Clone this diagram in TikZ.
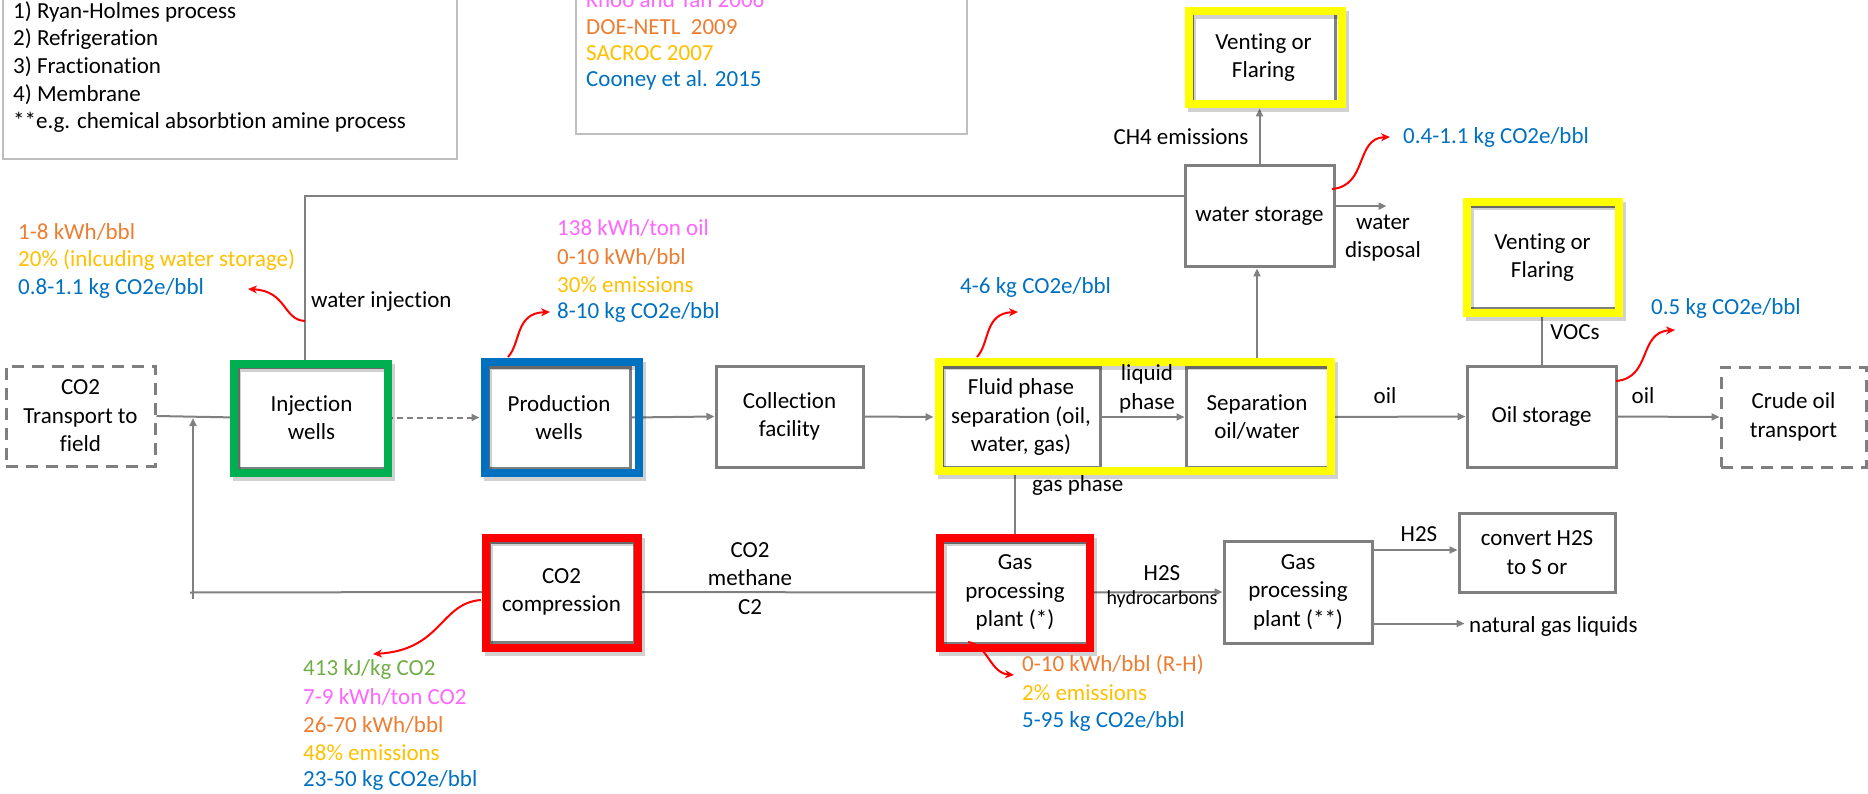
\documentclass[tikz,border=0pt]{standalone}
\usepackage{fontspec}
\setmainfont{Carlito}[Ligatures={NoCommon}]
\usetikzlibrary{arrows.meta,calc}
\definecolor{cGray}{HTML}{7F7F7F}
\definecolor{cLine}{HTML}{808080}
\definecolor{cLeg}{HTML}{BFBFBF}
\definecolor{cOrange}{HTML}{ED7D31}
\definecolor{cGold}{HTML}{FFC000}
\definecolor{cBlue}{HTML}{0070C0}
\definecolor{cPink}{HTML}{FF66FF}
\definecolor{cGreenT}{HTML}{70AD47}
\definecolor{fGreen}{HTML}{00B050}
\definecolor{fBlue}{HTML}{0070C0}
\definecolor{fRed}{HTML}{FF0000}
\definecolor{fYellow}{HTML}{FFFF00}
\begin{document}
\begin{tikzpicture}[x=1pt,y=-1pt,
  font=\fontsize{23}{28.5}\selectfont,
  gbox/.style={draw=cGray, line width=3pt, fill=white, inner sep=0pt, align=center, text=black},
  dbox/.style={draw=cGray, line width=3pt, dash pattern=on 12pt off 8pt, fill=white, inner sep=0pt, align=center, text=black},
  conn/.style={draw=cLine, line width=2pt},
  arr/.style={conn, -{Triangle[length=8pt,width=7pt]}},
  hlframe/.style={draw=#1, line width=8pt},
  shadowframe/.style={draw=black, opacity=0.18, line width=8pt},
  redarr/.style={draw=red, line width=2pt, -{Stealth[length=9pt,width=8pt]}},
  et/.style={anchor=west, inner sep=0pt},
  lab/.style={inner sep=0pt, align=center},
]
\useasboundingbox (0,0) rectangle (1868,794);
\clip (0,0) rectangle (1868,794);

% legends
\draw[cLeg, line width=1.5pt] (3,-10) rectangle (457,159);
\node[et] (l1) at (13,12) {1) Ryan-Holmes process};
\node[et] (l2) at (13,39.5) {2) Refrigeration};
\node[et] (l3) at (13,67) {3) Fractionation};
\node[et] (l4) at (13,94.5) {4) Membrane};
\node[et] (l5) at (13,122) {**e.g. chemical absorbtion amine process};

\draw[cLeg, line width=1.5pt] (576,-10) rectangle (967,134);
\node[et, text=cPink] (r1) at (586,0) {Khoo and Tan 2006};
\node[et, text=cOrange] (r2) at (586,27) {DOE-NETL\ \ 2009};
\node[et, text=cGold] (r3) at (586,53) {SACROC 2007};
\node[et, text=cBlue] (r4) at (586,80) {Cooney et al. 2015};

% boxes
\node[dbox, minimum width=149pt, minimum height=100pt] (tr) at (80.5,416) {CO2\\Transport to\\field};
\node[gbox, minimum width=147pt, minimum height=101pt] (inj) at (311.5,417.5) {Injection\\wells};
\node[gbox, minimum width=142pt, minimum height=101pt] (prod) at (559,417.5) {Production\\wells};
\node[gbox, minimum width=147pt, minimum height=101pt] (coll) at (789.5,416.5) {Collection\\facility};
\node[gbox, minimum width=158pt, minimum height=100pt] (fl) at (1021,417) {Fluid phase\\separation (oil,\\water, gas)};
\node[gbox, minimum width=142pt, minimum height=100pt] (sep) at (1257,417) {Separation\\oil/water};
\node[gbox, minimum width=149pt, minimum height=101pt] (oil) at (1541.5,416.5) {Oil storage};
\node[dbox, minimum width=145pt, minimum height=100pt] (cr) at (1793.5,417) {Crude oil\\transport};
\node[gbox, minimum width=149pt, minimum height=101pt] (ws) at (1259.5,216.5) {water storage};
\node[gbox, minimum width=143pt, minimum height=89pt] (vt) at (1263.5,57.5) {Venting or\\Flaring};
\node[gbox, minimum width=147pt, minimum height=101pt] (v2) at (1542.5,257.5) {Venting or\\Flaring};
\node[gbox, minimum width=145pt, minimum height=100pt] (comp) at (561.5,592) {CO2\\compression};
\node[gbox, minimum width=146pt, minimum height=101pt] (gp) at (1015,592.5) {Gas\\processing\\plant (*)};
\node[gbox, minimum width=148pt, minimum height=102pt] (gp2) at (1298,592) {Gas\\processing\\plant (**)};
\node[gbox, minimum width=156pt, minimum height=79pt] (conv) at (1537,552.5) {convert H2S\\to S or};

% connectors
\draw[conn] (tr.east) -- (inj.west);
\coordinate (rb) at (190,592.5);
\coordinate (rbot) at (193,599);
\coordinate (rtop) at (193,418);
\draw[conn] (comp.west) -- (rb);
\draw[arr] (rbot) -- (rtop);
\draw[arr, dash pattern=on 6pt off 4pt] (inj.east) -- ([xshift=-7pt]prod.west);
\draw[arr] (prod.east) -- (coll.west);
\draw[arr] (coll.east) -- ([xshift=-7pt]fl.west);
\draw[arr] (fl.east) -- (sep.west);
\draw[arr] (sep.east) -- (oil.west);
\draw[arr] (oil.east) -- (cr.west);
\coordinate (wsw) at ($(ws.north west)!0.3!(ws.south west)$);
\draw[conn] (wsw) -| ([xshift=-6.5pt]inj.north);
\draw[arr] ($(ws.north east)!0.4!(ws.south east)$) -- ++(51,0);
\draw[arr] (ws.north) -- ++(0,-56);
\draw[arr] (sep.north) -- (sep.north |- ws.south);
\draw[conn] (oil.north) -- (oil.north |- v2.south);
\draw[conn] (gp.north) -- (gp.north |- fl.south);
\draw[conn] (gp.west) -- (comp.east);
\draw[arr] (gp.east) -- (gp2.west);
\coordinate (g2a) at ($(gp2.north east)!0.1!(gp2.south east)$);
\draw[arr] (g2a) -- (g2a -| conv.west);
\coordinate (g2b) at ($(gp2.north east)!0.8!(gp2.south east)$);
\draw[arr] (g2b) -- ++(91,0);

% highlight frames with shadows
\foreach \a/\b/\c/\d in {234/364/388/473, 485/362/639/473, 939/362/1331/471, 1189/11/1342/104, 1467/202/1619/313, 486/538/638/648, 940/538/1090/648}{
  \draw[shadowframe] (\a+3,\b+4) rectangle (\c+3,\d+4);
}
\draw[hlframe=fGreen] (234,364) rectangle (388,473);
\draw[hlframe=fBlue] (485,362) rectangle (639,473);
\draw[hlframe=fYellow] (939,362) rectangle (1331,471);
\draw[hlframe=fYellow] (1189,11) rectangle (1342,104);
\draw[hlframe=fYellow] (1467,202) rectangle (1619,313);
\draw[hlframe=fRed] (486,538) rectangle (638,648);
\draw[hlframe=fRed] (940,538) rectangle (1090,648);

% labels
\node[lab, anchor=west] (lwi) at (311,302) {water injection};
\node[lab] (lch4) at (1181,137) {CH4 emissions};
\node[lab] (lwd) at (1383,238) {water\\disposal};
\node[lab] (llp) at (1147,389) {liquid\\phase};
\node[lab] (loil1) at (1385,396) {oil};
\node[lab] (loil2) at (1643,396) {oil};
\node[lab] (lvoc) at (1575,332) {VOCs};
\node[lab, anchor=west] (lgas) at (1032,485) {gas phase};
\node[lab] (lco2) at (750,564) {CO2\\methane};
\node[lab] (lc2) at (750,607) {C2};
\node[lab] (lh2s) at (1162,573) {H2S};
\node[lab, font=\fontsize{20}{22}\selectfont] (lhc) at (1162,599) {hydrocarbons};
\node[lab] (lh2s2) at (1419,534) {H2S};
\node[lab, anchor=west] (ngl) at (1469,626) {natural gas liquids};

% emission texts
\node[et, text=cOrange] (a1) at (18,232) {1-8 kWh/bbl};
\node[et, text=cGold] (a2) at (18,260) {20\% (inlcuding water storage)};
\node[et, text=cBlue] (a3) at (18,288) {0.8-1.1 kg CO2e/bbl};

\node[et, text=cPink] (b1) at (557,228) {138 kWh/ton oil};
\node[et, text=cOrange] (b2) at (557,257) {0-10 kWh/bbl};
\node[et, text=cGold] (b3) at (557,285) {30\% emissions};
\node[et, text=cBlue] (b4) at (557,312) {8-10 kg CO2e/bbl};

\node[et, text=cBlue] (c1) at (960,287) {4-6 kg CO2e/bbl};
\node[et, text=cBlue] (d1) at (1403,137) {0.4-1.1 kg CO2e/bbl};
\node[et, text=cBlue] (e1) at (1651,308) {0.5 kg CO2e/bbl};

\node[et, text=cGreenT] (f1) at (303,669) {413 kJ/kg CO2};
\node[et, text=cPink] (f2) at (303,697) {7-9 kWh/ton CO2};
\node[et, text=cOrange] (f3) at (303,725) {26-70 kWh/bbl};
\node[et, text=cGold] (f4) at (303,753) {48\% emissions};
\node[et, text=cBlue] (f5) at (303,780) {23-50 kg CO2e/bbl};

\node[et, text=cOrange] (g1) at (1022,665) {0-10 kWh/bbl (R-H)};
\node[et, text=cGold] (g2) at (1022,693) {2\% emissions};
\node[et, text=cBlue] (g3) at (1022,721) {5-95 kg CO2e/bbl};

% red emission arrows
\draw[redarr] (305,321) .. controls (283,320) and (287,291) .. (248,289);
\draw[redarr] (508,357) .. controls (521,343) and (515,313) .. (550,312);
\draw[redarr] (977,357) .. controls (990,343) and (984,313) .. (1018,312);
\draw[redarr] (1332,189) .. controls (1368,186) and (1355,138) .. (1390,137);
\draw[redarr] (1616,381) .. controls (1652,378) and (1638,332) .. (1675,330);
\draw[redarr] (481,600) .. controls (440,603) and (442,650) .. (373,654);
\draw[redarr] (968,642) .. controls (988,645) and (990,673) .. (1014,675);
\end{tikzpicture}
\end{document}
